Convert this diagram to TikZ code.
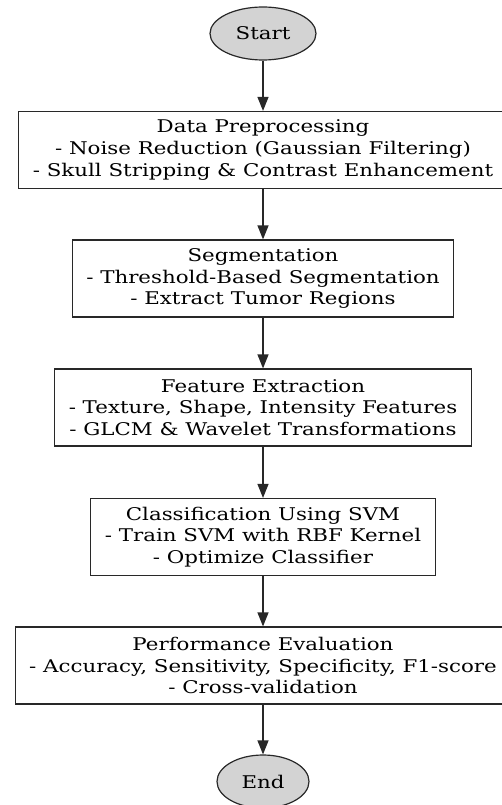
\documentclass[tikz,border=0pt]{standalone}
\usepackage{fontspec}
\setmainfont{DejaVu Serif}[FakeStretch=1.22]
\usetikzlibrary{arrows.meta,shapes.geometric}
\definecolor{mygrey}{RGB}{211,211,211}
\definecolor{myline}{RGB}{40,40,40}

\begin{document}
\begin{tikzpicture}[
  x=1pt, y=-1pt,
  line width=1.2pt,
  mystep/.style={
    draw=myline,
    rectangle,
    align=center,
    inner xsep=14pt,
    minimum height=77pt,
    font=\fontsize{17.5}{21.7}\selectfont
    },
  myend/.style={
    draw=myline,
    ellipse,
    fill=mygrey,
    inner sep=0pt,
    minimum height=53pt,
    minimum width=#1,
    font=\fontsize{17.5}{21.7}\selectfont
  },
  myarrow/.style={
    draw=myline,
    -{Triangle[length=14pt,width=11pt]}
  }
]
\useasboundingbox (0,0) rectangle (502,805);

\node[myend=106pt] (start) at (263,33.5) {Start};
\node[mystep] (prep) at (263,150)
  {Data Preprocessing\\
   - Noise Reduction (Gaussian Filtering)\\
   - Skull Stripping \& Contrast Enhancement};
\node[mystep] (seg) at (263,278.5)
  {Segmentation\\
   - Threshold-Based Segmentation\\
   - Extract Tumor Regions};
\node[mystep] (feat) at (263,407.5)
  {Feature Extraction\\
   - Texture, Shape, Intensity Features\\
   - GLCM \& Wavelet Transformations};
\node[mystep] (svm) at (263,537)
  {Classification Using SVM\\
   - Train SVM with RBF Kernel\\
   - Optimize Classifier};
\node[mystep] (eval) at (263,665.5)
  {Performance Evaluation\\
   - Accuracy, Sensitivity, Specificity, F1-score\\
   - Cross-validation};
\node[myend=92pt] (end) at (263,781.5) {End};

\foreach \From/\To in {start/prep, prep/seg, seg/feat, feat/svm, svm/eval, eval/end}
  \draw[myarrow] (\From) -- (\To);

\end{tikzpicture}
\end{document}
